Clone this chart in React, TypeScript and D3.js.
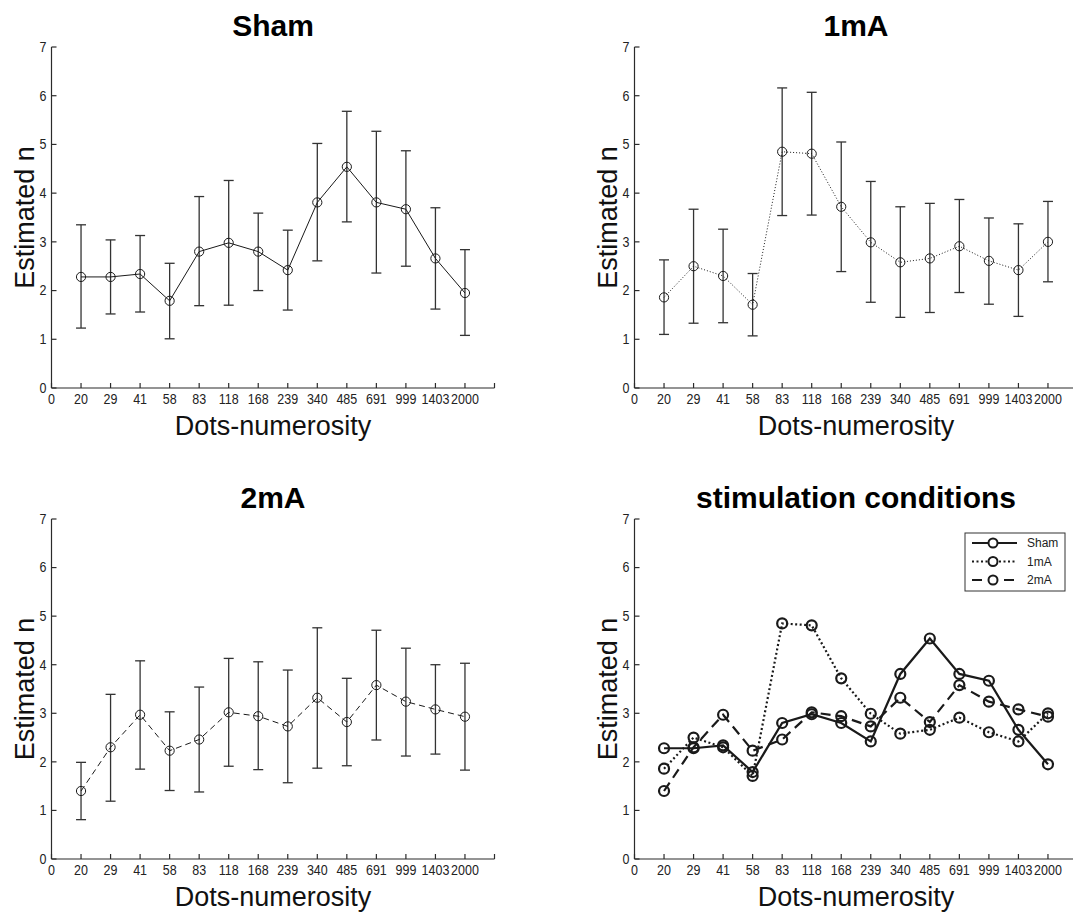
import React from "react";
import * as d3 from "d3";

const numerosity = ["20", "29", "41", "58", "83", "118", "168", "239", "340", "485", "691", "999", "1403", "2000"];
const yTicks = [0, 1, 2, 3, 4, 5, 6, 7];

const shamMean = [2.28, 2.28, 2.34, 1.79, 2.8, 2.98, 2.8, 2.42, 3.81, 4.54, 3.81, 3.67, 2.66, 1.95];
const shamHigh = [3.35, 3.04, 3.13, 2.56, 3.93, 4.26, 3.59, 3.24, 5.02, 5.68, 5.27, 4.87, 3.7, 2.84];
const shamLow = [1.23, 1.52, 1.56, 1.01, 1.69, 1.7, 2.0, 1.6, 2.61, 3.41, 2.36, 2.5, 1.62, 1.08];

const oneMean = [1.86, 2.5, 2.3, 1.71, 4.85, 4.81, 3.72, 2.99, 2.58, 2.66, 2.91, 2.61, 2.42, 3.0];
const oneHigh = [2.63, 3.67, 3.26, 2.35, 6.16, 6.07, 5.05, 4.24, 3.72, 3.79, 3.87, 3.49, 3.37, 3.83];
const oneLow = [1.1, 1.33, 1.34, 1.07, 3.54, 3.55, 2.39, 1.76, 1.45, 1.55, 1.96, 1.72, 1.47, 2.18];

const twoMean = [1.4, 2.3, 2.97, 2.23, 2.46, 3.02, 2.94, 2.73, 3.32, 2.82, 3.58, 3.24, 3.08, 2.93];
const twoHigh = [1.99, 3.39, 4.08, 3.03, 3.54, 4.13, 4.06, 3.89, 4.76, 3.72, 4.71, 4.34, 4.0, 4.03];
const twoLow = [0.81, 1.19, 1.85, 1.41, 1.38, 1.91, 1.84, 1.57, 1.87, 1.92, 2.45, 2.12, 2.16, 1.83];

const FONT = "'Liberation Sans', Arial, sans-serif";
const AXIS = "#2b2b2b";

type Series = {
  name: string;
  mean: number[];
  high?: number[];
  low?: number[];
  dash: string;
};

type PanelProps = {
  x0: number;
  x1: number;
  top: number;
  bottom: number;
  title: string;
  series: Series[];
  bold?: boolean;
  legend?: boolean;
};

const Panel = ({ x0, x1, top, bottom, title, series, bold, legend }: PanelProps) => {
  const x = d3.scaleLinear().domain([0, 15]).range([x0, x1]);
  const y = d3.scaleLinear().domain([0, 7]).range([bottom, top]);
  const line = d3
    .line<number>()
    .x((_, i) => x(i + 1))
    .y((d) => y(d));
  const lw = bold ? 2.2 : 1;
  const r = bold ? 5 : 4.6;
  const xTicks = d3.range(0, 16);
  const cx = (x0 + x1) / 2;

  return (
    <g>
      <text x={cx} y={top - 11} textAnchor="middle" fontSize={30} fontWeight="bold" fill="#000">
        {title}
      </text>
      <text
        transform={`translate(${x0 - 17.5},${(top + bottom) / 2}) rotate(-90)`}
        textAnchor="middle"
        fontSize={27}
        fill="#111"
      >
        Estimated n
      </text>
      <text x={cx} y={bottom + 47} textAnchor="middle" fontSize={27} fill="#111">
        Dots-numerosity
      </text>

      {/* axes, ticks pointing inward */}
      <line x1={x0} x2={x0} y1={top} y2={bottom} stroke={AXIS} strokeWidth={1.2} />
      <line x1={x0} x2={x1} y1={bottom} y2={bottom} stroke={AXIS} strokeWidth={1.2} />
      {yTicks.map((t) => (
        <g key={"y" + t}>
          <line x1={x0} x2={x0 + 5} y1={y(t)} y2={y(t)} stroke={AXIS} strokeWidth={1.2} />
          <text
            transform={`translate(${x0 - 5},${y(t) + 4.8}) scale(1,1.12)`}
            textAnchor="end"
            fontSize={12.5}
            fill="#222"
          >
            {t}
          </text>
        </g>
      ))}
      {xTicks.map((t) => (
        <g key={"x" + t}>
          <line x1={x(t)} x2={x(t)} y1={bottom} y2={bottom - 5} stroke={AXIS} strokeWidth={1.2} />
          <text
            transform={`translate(${x(t)},${bottom + 16}) scale(1,1.12)`}
            textAnchor="middle"
            fontSize={12.5}
            fill="#222"
          >
            {t === 0 ? "0" : numerosity[t - 1] ?? ""}
          </text>
        </g>
      ))}

      {/* series */}
      {series.map((s) => (
        <g key={s.name}>
          {s.high &&
            s.low &&
            s.mean.map((_, i) => (
              <g key={i} stroke="#333" strokeWidth={1.3}>
                <line x1={x(i + 1)} x2={x(i + 1)} y1={y(s.high![i])} y2={y(s.low![i])} />
                <line x1={x(i + 1) - 5} x2={x(i + 1) + 5} y1={y(s.high![i])} y2={y(s.high![i])} />
                <line x1={x(i + 1) - 5} x2={x(i + 1) + 5} y1={y(s.low![i])} y2={y(s.low![i])} />
              </g>
            ))}
          <path d={line(s.mean) ?? ""} fill="none" stroke="#1a1a1a" strokeWidth={lw} strokeDasharray={s.dash} />
          {s.mean.map((v, i) => (
            <circle key={i} cx={x(i + 1)} cy={y(v)} r={r} fill="none" stroke="#1a1a1a" strokeWidth={lw} />
          ))}
        </g>
      ))}

      {legend && (
        <g>
          <rect x={965} y={533} width={100} height={58} fill="#fff" stroke="#333" strokeWidth={1} />
          {series.map((s, i) => {
            const ly = 543 + i * 18.5;
            return (
              <g key={"lg" + s.name}>
                <line x1={972} x2={1017} y1={ly} y2={ly} stroke="#1a1a1a" strokeWidth={2} strokeDasharray={s.dash} />
                <circle cx={993} cy={ly} r={4.5} fill="#fff" stroke="#1a1a1a" strokeWidth={2} />
                <text x={1027} y={ly} dy="0.35em" fontSize={12} fill="#222">
                  {s.name}
                </text>
              </g>
            );
          })}
        </g>
      )}
    </g>
  );
};

export default function App() {
  const sham: Series = { name: "Sham", mean: shamMean, high: shamHigh, low: shamLow, dash: "" };
  const one: Series = { name: "1mA", mean: oneMean, high: oneHigh, low: oneLow, dash: "1,2" };
  const two: Series = { name: "2mA", mean: twoMean, high: twoHigh, low: twoLow, dash: "6,4" };

  return (
    <svg
      width={1073}
      height={912}
      style={{ position: "absolute", left: 0, top: 0, background: "#fff", fontFamily: FONT }}
    >
      <rect width={1073} height={912} fill="#fff" />
      <Panel x0={51.5} x1={494.5} top={47} bottom={388} title="Sham" series={[sham]} />
      <Panel x0={634.5} x1={1077.5} top={47} bottom={388} title="1mA" series={[one]} />
      <Panel x0={51.5} x1={494.5} top={519} bottom={859} title="2mA" series={[two]} />
      <Panel
        x0={634.5}
        x1={1077.5}
        top={519}
        bottom={859}
        title="stimulation conditions"
        bold
        legend
        series={[
          { name: "Sham", mean: shamMean, dash: "" },
          { name: "1mA", mean: oneMean, dash: "2,2.5" },
          { name: "2mA", mean: twoMean, dash: "10,6" },
        ]}
      />
    </svg>
  );
}
